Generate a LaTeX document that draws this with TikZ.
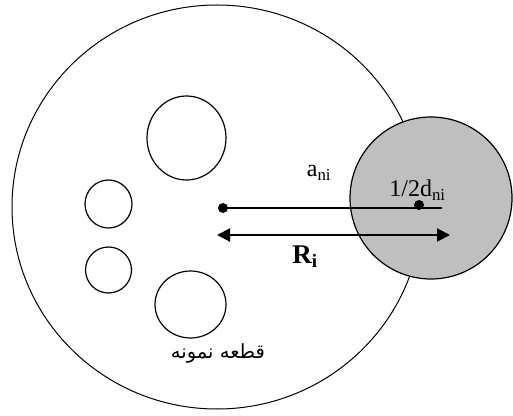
\documentclass[tikz,border=0pt]{standalone}
\usepackage{fontspec}
\setmainfont{Liberation Serif}
\newfontfamily\arabicfont[Script=Arabic]{DejaVu Sans}
\TeXXeTstate=1
\usetikzlibrary{arrows.meta}

\tikzset{
	hole/.style={draw, line width=1.2pt},
	centre/.style={circle, fill, inner sep=0pt, minimum size=10pt},
	txt/.style={anchor=base, inner sep=0pt, font=\fontsize{24}{28}\selectfont}
}

\begin{document}
\begin{tikzpicture}[x=1pt, y=1pt]
		\useasboundingbox (0, 0) rectangle (513, 415);
		
		% the part and its holes
		\draw[line width=1pt] (217, 208) ellipse [x radius=205, y radius=202];
		\draw[hole] (186.5, 277) ellipse [x radius=39.5, y radius=42];
		\draw[hole] (108.5, 211) ellipse [x radius=23.5, y radius=24];
		\draw[hole] (108.5, 145) circle [radius=23];
		\draw[hole] (190.5, 110.5) ellipse [x radius=35.5, y radius=33.5];
		
		% the tool, grey
		\fill[black!25] (431, 217) circle [radius=81];
		\draw[line width=1.2pt] (431, 217) circle [radius=81];
		
		% centres and the distance a_ni
		\node[centre] (c0) at (223, 207) {};
		\node[centre] (c1) at (419, 210) {};
		\coordinate (lineend) at (442, 207);
		\draw[line width=1.5pt] (c0.west) -- (lineend);
		
		% R_i
		\coordinate (rleft) at (217, 180);
		\coordinate (rright) at (450, 180);
		\draw[line width=2pt, {Triangle[length=13pt, width=13pt]}-{Triangle[length=13pt, width=13pt]}] (rleft) -- (rright);
		
		\node[txt] (ani) at (319, 238) {a\textsubscript{ni}};
		\node[txt] (dni) at (417.5, 218) {1/2d\textsubscript{ni}};
		\node[txt, font=\fontsize{27}{30}\selectfont] (ri) at (305, 152) {\textbf{R\textsubscript{i}}};
		\node[anchor=base, inner sep=0pt, font=\fontsize{19.5}{23}\arabicfont] (part) at (218, 57) {\beginR قطعه نمونه\endR};
	\end{tikzpicture}
\end{document}
